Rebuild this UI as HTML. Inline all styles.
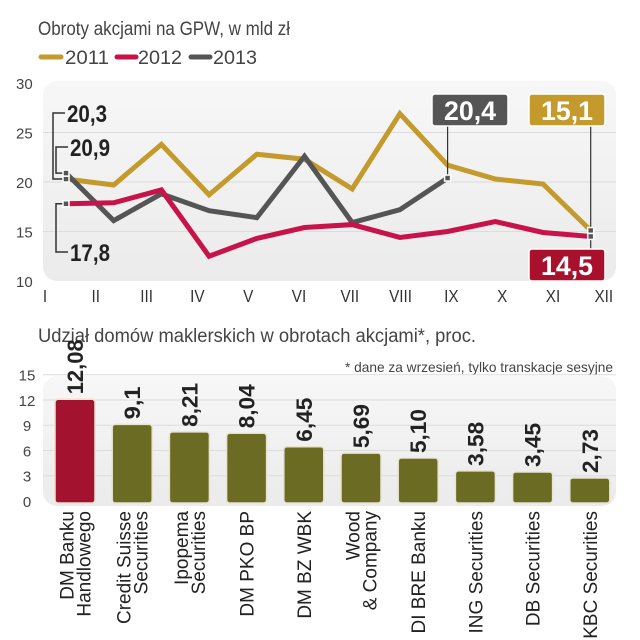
<!DOCTYPE html>
<html><head><meta charset="utf-8"><style>
html,body{margin:0;padding:0;background:#fff;}
svg{display:block;font-family:"Liberation Sans Narrow","Liberation Sans",sans-serif;}
</style></head><body>
<svg id="c" width="640" height="640" viewBox="0 0 640 640">
<defs>
<linearGradient id="bg" x1="0" y1="0" x2="0" y2="1"><stop offset="0" stop-color="#f7f7f7"/><stop offset="1" stop-color="#ebebeb"/></linearGradient>
</defs>
<text x="38" y="35" font-size="19" fill="#444" textLength="252" lengthAdjust="spacingAndGlyphs">Obroty akcjami na GPW, w mld zł</text>
<g>
<line x1="41" y1="57" x2="61" y2="57" stroke="#c49a2c" stroke-width="5" stroke-linecap="round"/>
<text x="65" y="64" font-size="19" fill="#444" textLength="44" lengthAdjust="spacingAndGlyphs">2011</text>
<line x1="117" y1="57" x2="136" y2="57" stroke="#c8124a" stroke-width="5" stroke-linecap="round"/>
<text x="138" y="64" font-size="19" fill="#444" textLength="44" lengthAdjust="spacingAndGlyphs">2012</text>
<line x1="191" y1="57" x2="210" y2="57" stroke="#555" stroke-width="5" stroke-linecap="round"/>
<text x="213" y="64" font-size="19" fill="#444" textLength="44" lengthAdjust="spacingAndGlyphs">2013</text>
</g>
<rect x="43" y="81" width="573" height="200" rx="14" fill="url(#bg)"/>
<g id="topg"></g>
<text x="38" y="342" font-size="19" fill="#444" textLength="438" lengthAdjust="spacingAndGlyphs">Udział domów maklerskich w obrotach akcjami*, proc.</text>
<text x="613" y="372" font-size="14" fill="#444" text-anchor="end" textLength="268" lengthAdjust="spacingAndGlyphs">* dane za wrzesień, tylko transkacje sesyjne</text>
<rect x="43" y="376" width="573" height="130" rx="14" fill="url(#bg)"/>
<g id="botg"></g>
</svg>
<script>
const months=["I","II","III","IV","V","VI","VII","VIII","IX","X","XI","XII"];
const s2011=[20.3,19.7,23.8,18.7,22.8,22.3,19.3,26.9,21.7,20.3,19.8,15.1];
const s2012=[17.8,17.9,19.2,12.5,14.3,15.4,15.7,14.4,15.0,16.0,14.9,14.5];
const s2013=[20.9,16.1,18.8,17.1,16.4,22.6,15.9,17.2,20.4];
const yTicks=[10,15,20,25,30];
const firms=[["DM Banku","Handlowego"],["Credit Suisse","Securities"],["Ipopema","Securities"],["DM PKO BP"],["DM BZ WBK"],["Wood","& Company"],["DI BRE Banku"],["ING Securities"],["DB Securities"],["KBC Securities"]];
const shares=[12.08,9.1,8.21,8.04,6.45,5.69,5.10,3.58,3.45,2.73];
const shareLabels=["12,08","9,1","8,21","8,04","6,45","5,69","5,10","3,58","3,45","2,73"];
const barTicks=[0,3,6,9,12,15];

const NS="http://www.w3.org/2000/svg";
function mk(p,t,a,txt){const e=document.createElementNS(NS,t);for(const k in a)e.setAttribute(k,a[k]);if(txt!==undefined)e.textContent=txt;p.appendChild(e);return e;}
const fmt=v=>v.toFixed(1).replace('.',',');
const tg=document.getElementById('topg');
const X=i=>66+i*47.7, Y=v=>182-(v-20)*9.9;
yTicks.forEach(t=>{
  if(t>10&&t<30){const l=mk(tg,'line',{x1:43,x2:616,y1:Y(t),y2:Y(t),stroke:'#dcdcdc','stroke-width':1});
  
  }
  const e=mk(tg,'text',{x:16,y:Y(t)+6,'font-size':15,fill:'#444'},t);
  
  
});
months.forEach((m,i)=>{
  const e=mk(tg,'text',{x:45+i*50.8,y:302,'font-size':18,fill:'#333','text-anchor':'middle',transform:`translate(${45+i*50.8},0) scale(0.85,1) translate(${-(45+i*50.8)},0)`},m);
  
  
});
function series(arr,col,name){
  const p=mk(tg,'polyline',{points:arr.map((v,i)=>X(i)+','+Y(v)).join(' '),fill:'none',stroke:col,'stroke-width':5,'stroke-linejoin':'miter'});
  
  
}
series(s2011,'#c49a2c','line-2011');
series(s2013,'#555','line-2013');
series(s2012,'#c8124a','line-2012');
function marker(x,y){const r=mk(tg,'rect',{x:x-3,y:y-3,width:6,height:6,fill:'#555',stroke:'#fff','stroke-width':1.5});

}
function bracket(lx,ly,px,py,lab,name){
  mk(tg,'polyline',{points:`${lx+12},${ly} ${lx},${ly} ${lx},${py} ${px},${py}`,fill:'none',stroke:'#333','stroke-width':1.5});
  const t=mk(tg,'text',{x:lx+14,y:ly+9,'font-size':24,'font-weight':'bold',fill:'#222',textLength:40,lengthAdjust:'spacingAndGlyphs'},lab);
  
  
}
bracket(53,113,X(0),Y(s2011[0]),fmt(s2011[0]),'label-2011-jan');
bracket(56,147,X(0),Y(s2013[0]),fmt(s2013[0]),'label-2013-jan');
bracket(56,252,X(0),Y(s2012[0]),fmt(s2012[0]),'label-2012-jan');
marker(X(0),Y(s2011[0]));marker(X(0),Y(s2013[0]));marker(X(0),Y(s2012[0]));
function box(x,y,col,lab,px,py,name){
  mk(tg,'line',{x1:px,y1:y<py?y+32:y,x2:px,y2:py,stroke:'#333','stroke-width':1.2});
  mk(tg,'rect',{x:x,y:y,width:76,height:32,rx:3,fill:col,stroke:'#fff','stroke-width':1.5});
  const t=mk(tg,'text',{x:x+38,y:y+26,'font-size':27,'font-weight':'bold',fill:'#fff','text-anchor':'middle',textLength:52,lengthAdjust:'spacingAndGlyphs'},lab);
  
  
}
const l13=s2013.length-1;
box(432,94,'#555',fmt(s2013[l13]),X(l13),Y(s2013[l13]),'label-2013-last');
box(529,94,'#c49a2c',fmt(s2011[11]),X(11),Y(s2011[11]),'label-2011-last');
box(529,249,'#a8102c',fmt(s2012[11]),X(11),Y(s2012[11]),'label-2012-last');
marker(X(l13),Y(s2013[l13]));marker(X(11),Y(s2011[11]));marker(X(11),Y(s2012[11]));
const bg=document.getElementById('botg');
const BY=v=>501-v*8.42, BX=i=>75+i*57.2;
barTicks.forEach(t=>{
  if(t>0){const l=mk(bg,'line',{x1:43,x2:616,y1:BY(t),y2:BY(t),stroke:'#dcdcdc','stroke-width':1});
  
  }
  const e=mk(bg,'text',{x:27,y:BY(t)+6,'font-size':15,fill:'#444','text-anchor':'middle'},t);
  
  
});
shares.forEach((v,i)=>{
  const x=BX(i);
  const r=mk(bg,'rect',{x:x-20,y:BY(v),width:40,height:BY(0)-BY(v)+2,rx:3,fill:i===0?'#a3122f':'#6b6b24',stroke:'#e8e4d0','stroke-width':1.5});
  
  
  const lab=shareLabels[i];
  const t=mk(bg,'text',{x:0,y:0,'font-size':22,'font-weight':'bold',fill:'#222',transform:`translate(${x+8},${BY(v)-5}) rotate(-90)`,textLength:lab.length*11,lengthAdjust:'spacingAndGlyphs'},lab);
  
  
  const lines=firms[i];
  lines.forEach((ln,j)=>{
    const off=(j-(lines.length-1)/2)*17;
    const c=mk(bg,'text',{x:0,y:0,'font-size':19,fill:'#222','text-anchor':'end',transform:`translate(${x+7+off},${511}) rotate(-90)`},ln);
    
    
  });
});
</script>
</body></html>
